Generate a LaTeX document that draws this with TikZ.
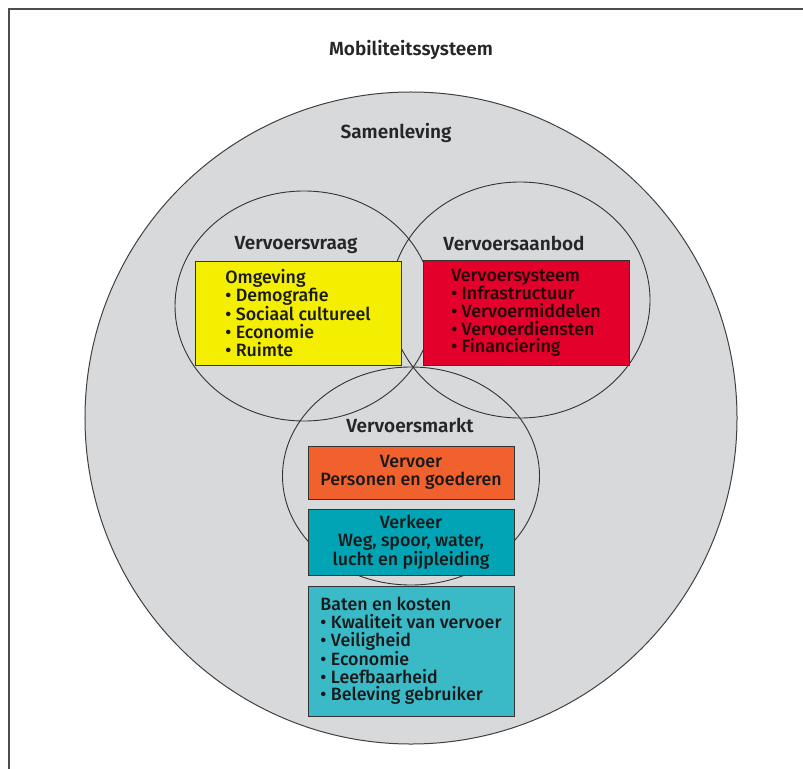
\documentclass[tikz,border=0pt]{standalone}
\usepackage{fontspec}
\setmainfont{Fira Sans}[UprightFont={* Medium},BoldFont={* SemiBold}]
\usetikzlibrary{positioning,shapes.geometric}
\definecolor{samengrey}{HTML}{D8D9DB}
\definecolor{omgyellow}{HTML}{F4EF00}
\definecolor{sysred}{HTML}{E3002A}
\definecolor{vervoerorange}{HTML}{F0612E}
\definecolor{verkeerteal}{HTML}{00A4B4}
\definecolor{batenteal}{HTML}{3ABAC7}
\begin{document}
\begin{tikzpicture}[x=1bp,y=-1bp,
                ring/.style={ellipse,draw=black!80,line width=0.9bp,inner sep=0pt},
                box/.style={rectangle,draw=black!80,line width=1bp,minimum width=206bp,
                        inner sep=0pt,align=left,text=black!90,
                        font=\fontsize{17.8bp}{17.8bp}\selectfont},
                kop/.style={text=black!85,font=\fontsize{19bp}{20bp}\selectfont\bfseries},
                node distance=9bp]
                \useasboundingbox (0,0) rectangle (803,769);
                % frame
                \draw[black!70,line width=1.2bp] (9,769) -- (9,9) -- (803,9);
                \node[circle,draw=black!75,fill=samengrey,line width=1bp,
                        minimum size=652bp,inner sep=0pt] (samen) at (411,418) {};
                \node[ring,minimum width=258bp,minimum height=230bp] (vraag) at (304,306) {};
                \node[ring,minimum width=260bp,minimum height=236bp] (aanbod) at (520,300) {};
                \node[ring,minimum width=257bp,minimum height=218bp] (markt) at (411,476) {};
                \node[box,fill=omgyellow,minimum height=104bp] (omg) at (298,313)
                        {Omgeving\\\textbullet\ Demografie\\\textbullet\ Sociaal cultureel\\\textbullet\ Economie\\\textbullet\ Ruimte};
                \node[box,fill=sysred,minimum height=105bp,text=black!85!sysred] (sys) at (526,313)
                        {Vervoersysteem\\\textbullet\ Infrastructuur\\\textbullet\ Vervoermiddelen\\\textbullet\ Vervoerdiensten\\\textbullet\ Financiering};
                \node[box,fill=vervoerorange,minimum height=53bp,align=center] (vervoer) at (411,472.5)
                        {Vervoer\\Personen en goederen};
                \node[box,fill=verkeerteal,minimum height=66bp,align=center] (verkeer) [below=of vervoer]
                        {Verkeer\\Weg, spoor, water,\\lucht en pijpleiding};
                \node[box,fill=batenteal,minimum height=130bp] (baten) [below=10bp of verkeer]
                        {Baten en kosten\\\textbullet\ Kwaliteit van vervoer\\\textbullet\ Veiligheid\\\textbullet\ Economie\\\textbullet\ Leefbaarheid\\\textbullet\ Beleving gebruiker};
                \node[kop] (textmobi) at (411,50) {Mobiliteitssysteem};
                \node[kop] (textsamen) at (396,133) {Samenleving};
                \node[kop] (textvraag) at (296,245) {Vervoersvraag};
                \node[kop] (textaanbod) at (514,243) {Vervoersaanbod};
                \node[kop] (textmarkt) at (410,425) {Vervoersmarkt};
\end{tikzpicture}
\end{document}
